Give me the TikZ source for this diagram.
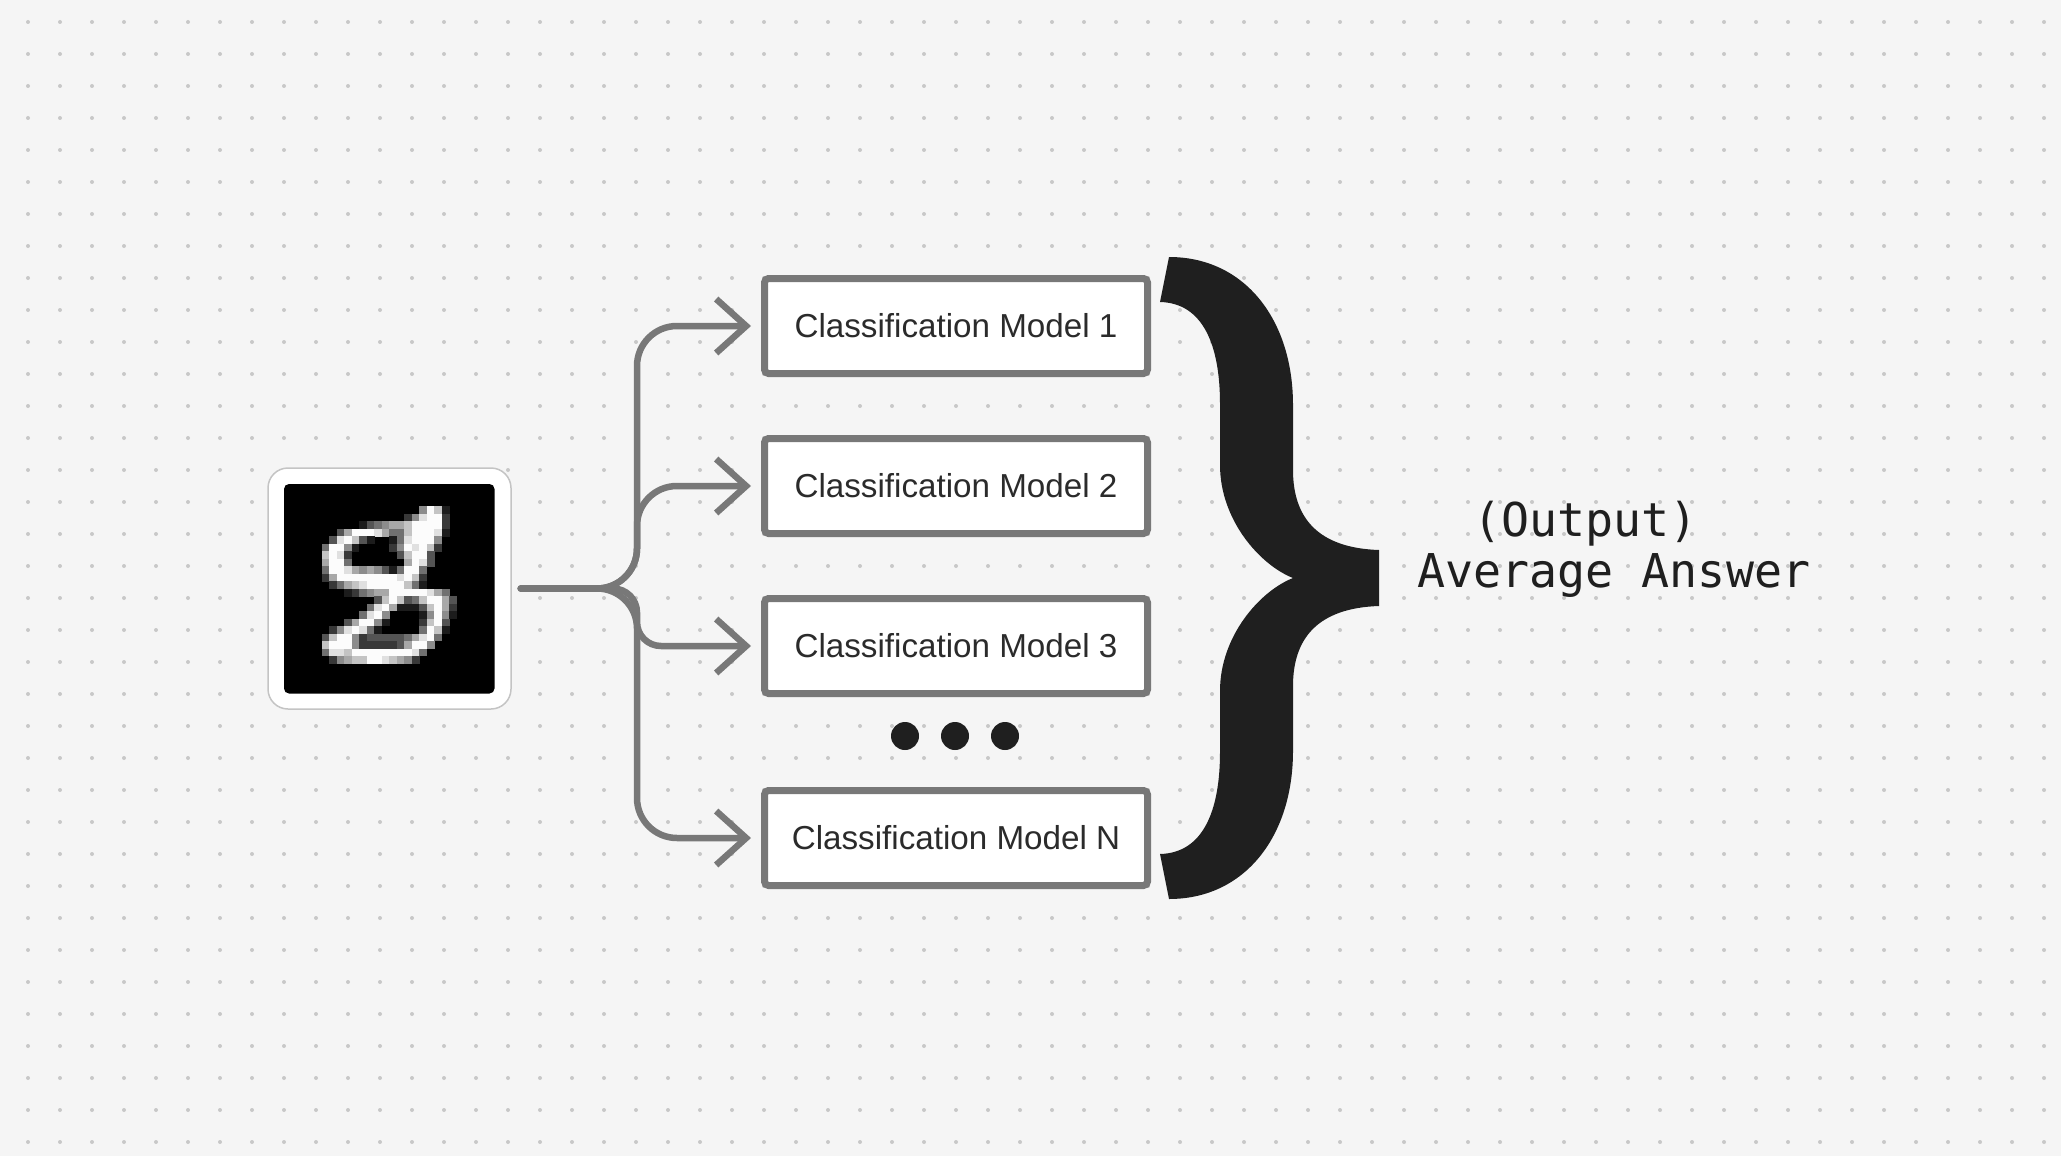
\documentclass[tikz,border=0pt]{standalone}
\usepackage{fontspec}
\setmainfont{Liberation Sans}
\newfontfamily\monofont{DejaVu Sans Mono}
\usetikzlibrary{arrows.meta, positioning}

\definecolor{bgc}{HTML}{F5F5F5}
\definecolor{dotc}{HTML}{C8C8C8}
\definecolor{linec}{HTML}{787878}
\definecolor{inkc}{HTML}{1F1F1F}
\definecolor{textc}{HTML}{2B2B2B}
\definecolor{framec}{HTML}{C4C4C4}

\tikzset{
  model/.style={draw=linec, line width=3.5pt, fill=white, rounded corners=2pt,
    minimum width=191.5pt, minimum height=47.5pt, inner sep=0pt,
    font=\fontsize{16.6}{20}\selectfont, text=textc},
  branch/.style={draw=linec, line width=3.25pt, line cap=round, line join=round,
    rounded corners=20pt, -{Straight Barb[length=15pt, width=27pt]}, shorten >=5pt},
  imgframe/.style={draw=framec, line width=0.75pt, fill=white, rounded corners=10pt,
    minimum width=121.5pt, minimum height=120.5pt}
}

\begin{document}
\begin{tikzpicture}[x=0.5pt, y=-0.5pt]
  \useasboundingbox[fill=bgc] (0,0) rectangle (2061,1156);
  % dot grid
  \foreach \i in {0,...,63}
    \foreach \j in {0,...,35}
      \fill[dotc] (28+32*\i, 22+32*\j) circle (1pt);

  % input image
  \node[imgframe] (img) at (389.5,588.5) {};
  \fill[black, rounded corners=2.5pt] (284,484) rectangle (494.5,693.5);
  \foreach \r/\c/\v in {
      3/18/5, 3/19/9, 3/20/7, 3/21/1,
      4/16/2, 4/17/5, 4/18/8, 4/19/9, 4/20/9, 4/21/2,
      5/10/1, 5/11/3, 5/12/4, 5/13/5, 5/14/6, 5/15/6, 5/16/7, 5/17/9, 5/18/9, 5/19/9, 5/20/9, 5/21/2,
      6/7/3, 6/8/6, 6/9/9, 6/10/9, 6/11/9, 6/12/8, 6/13/6, 6/14/4, 6/15/4, 6/16/7, 6/17/9, 6/18/9, 6/19/9, 6/20/8, 6/21/1,
      7/6/3, 7/7/8, 7/8/9, 7/9/7, 7/10/3, 7/11/1, 7/14/1, 7/15/4, 7/16/8, 7/17/9, 7/18/9, 7/19/9, 7/20/5,
      8/5/4, 8/6/9, 8/7/9, 8/8/5, 8/9/1, 8/14/2, 8/15/5, 8/16/9, 8/17/8, 8/18/9, 8/19/7, 8/20/2,
      9/5/7, 9/6/9, 9/7/8, 9/8/2, 9/15/3, 9/16/7, 9/17/9, 9/18/9, 9/19/3,
      10/5/6, 10/6/9, 10/7/9, 10/8/4, 10/16/6, 10/17/9, 10/18/8, 10/19/3,
      11/5/4, 11/6/9, 11/7/9, 11/8/8, 11/9/6, 11/10/5, 11/11/6, 11/12/5, 11/13/3, 11/14/1, 11/15/4, 11/16/9, 11/17/9, 11/18/4,
      12/5/2, 12/6/6, 12/7/9, 12/8/9, 12/9/9, 12/10/9, 12/11/9, 12/12/9, 12/13/9, 12/14/9, 12/15/8, 12/16/9, 12/17/7, 12/18/2,
      13/6/2, 13/7/4, 13/8/6, 13/9/7, 13/10/8, 13/11/9, 13/12/9, 13/13/9, 13/14/9, 13/15/9, 13/16/7, 13/17/4, 13/18/1,
      14/8/1, 14/9/2, 14/10/4, 14/11/5, 14/12/6, 14/13/6, 14/14/9, 14/15/9, 14/16/9, 14/17/9, 14/18/9, 14/19/8, 14/20/6, 14/21/4,
      15/12/3, 15/13/7, 15/14/9, 15/15/7, 15/16/3, 15/17/4, 15/18/7, 15/19/9, 15/20/9, 15/21/6, 15/22/3,
      16/11/4, 16/12/8, 16/13/9, 16/14/6, 16/15/1, 16/16/1, 16/17/1, 16/18/3, 16/19/7, 16/20/9, 16/21/6, 16/22/2,
      17/10/4, 17/11/8, 17/12/9, 17/13/5, 17/18/1, 17/19/5, 17/20/9, 17/21/5, 17/22/1,
      18/8/3, 18/9/6, 18/10/9, 18/11/9, 18/12/5, 18/13/1, 18/18/2, 18/19/7, 18/20/9, 18/21/3,
      19/6/2, 19/7/5, 19/8/8, 19/9/9, 19/10/8, 19/11/4, 19/12/1, 19/18/4, 19/19/9, 19/20/7, 19/21/1,
      20/5/3, 20/6/7, 20/7/9, 20/8/9, 20/9/5, 20/10/2, 20/11/3, 20/12/3, 20/13/3, 20/14/3, 20/15/3, 20/16/4, 20/17/6, 20/18/8, 20/19/9, 20/20/4,
      21/5/7, 21/6/9, 21/7/9, 21/8/9, 21/9/5, 21/10/2, 21/11/2, 21/12/2, 21/13/2, 21/14/2, 21/15/3, 21/16/6, 21/17/9, 21/18/9, 21/19/5,
      22/5/4, 22/6/8, 22/7/8, 22/8/7, 22/9/9, 22/10/9, 22/11/9, 22/12/9, 22/13/9, 22/14/9, 22/15/9, 22/16/9, 22/17/8, 22/18/4,
      23/6/2, 23/7/5, 23/8/6, 23/9/7, 23/10/7, 23/11/9, 23/12/9, 23/13/8, 23/14/7, 23/15/6, 23/16/5, 23/17/2}{
    \pgfmathtruncatemacro\p{11*\v}
    \fill[white!\p!black] (284+7.52*\c, 484+7.48*\r) rectangle ++(7.8,7.8);
  }

  % classifiers
  \node[model] (m1) at (956,326) {Classification Model 1};
  \node[model] (m2) at (956,486) {Classification Model 2};
  \node[model] (m3) at (956,646) {Classification Model 3};
  \node[model] (mN) at (956,838) {Classification Model N};
  \foreach \x in {905,955,1005}
    \fill[inkc] (\x,736) circle (7pt);

  % fan out
  \coordinate (split) at (637,588.5);
  \draw[branch] ([xshift=4.5pt]img.east) -- (split) |- (m1.west);
  \draw[branch] ([xshift=4.5pt]img.east) -- (split) |- (m2.west);
  \draw[branch, rounded corners=12pt] ([xshift=4.5pt]img.east) -- (split) |- (m3.west);
  \draw[branch] ([xshift=4.5pt]img.east) -- (split) |- (mN.west);

  % big brace
  \fill[inkc] (1169,257) .. controls (1245,257) and (1293,320) .. (1293,405)
    -- (1293,470) .. controls (1293,518) and (1318,548) .. (1379,550)
    -- (1379,606) .. controls (1318,608) and (1293,638) .. (1293,686)
    -- (1293,751) .. controls (1293,836) and (1245,899) .. (1169,899)
    -- (1160,854) .. controls (1203,853) and (1220,811) .. (1220,752)
    -- (1220,691) .. controls (1220,636) and (1260,591) .. (1293,578)
    .. controls (1260,565) and (1220,520) .. (1220,465)
    -- (1220,404) .. controls (1220,345) and (1203,303) .. (1160,302)
    -- cycle;

  \node[inner sep=0pt, anchor=west, align=left, text=inkc,
    font=\monofont\fontsize{23.3}{25.5}\selectfont] (avg) at (1417,549)
    {~~(Output)\\Average Answer};
\end{tikzpicture}
\end{document}
